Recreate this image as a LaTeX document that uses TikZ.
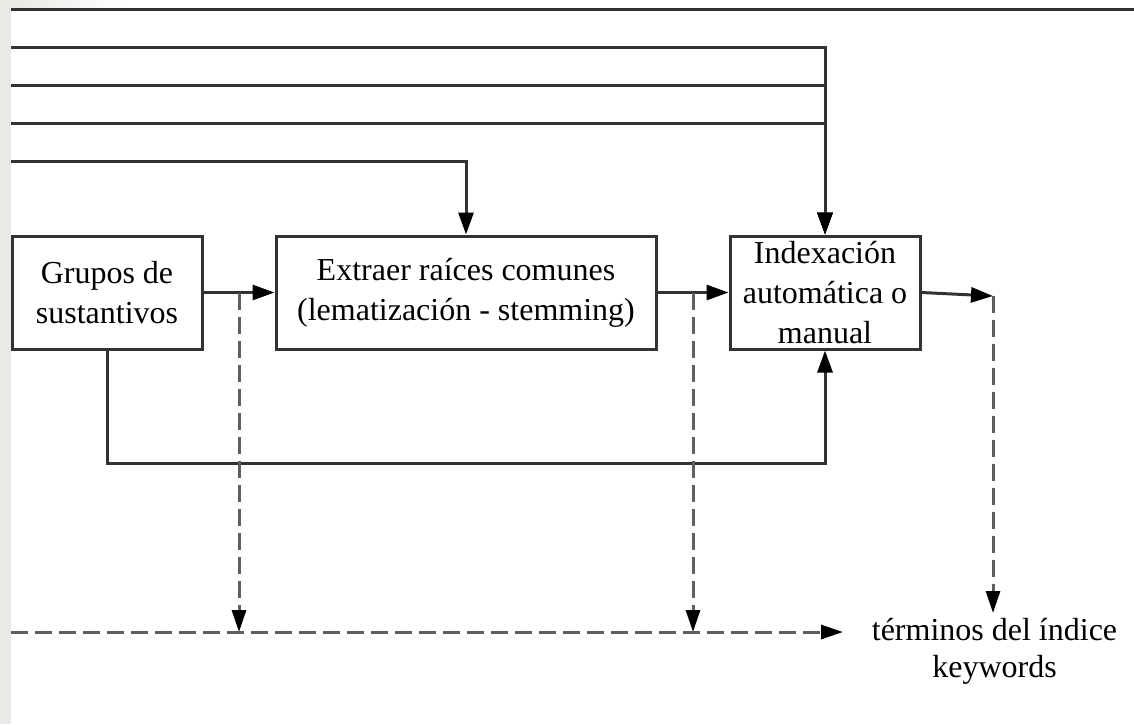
\documentclass[tikz,border=0pt]{standalone}
\usepackage{fontspec}
\setmainfont{Liberation Serif}
\usepackage{tikz}
\usetikzlibrary{arrows.meta,calc}
\usepackage{xcolor}
\definecolor{stripgray}{RGB}{234,233,229}
\definecolor{linegray}{RGB}{50,50,50}
\definecolor{dashgray}{RGB}{95,95,95}

\begin{document}
\begin{tikzpicture}[x=0.5pt, y=-0.5pt,
    box/.style={draw=linegray, line width=1.5pt, fill=white, align=center,
        minimum height=56.5pt, inner sep=0pt},
    flow/.style={draw=linegray, line width=1.5pt,
        -{Triangle[length=11pt,width=7.5pt,color=black]}},
    aux/.style={draw=dashgray, line width=1.5pt, dash pattern=on 8.5pt off 3.5pt,
        -{Triangle[length=11pt,width=7pt,color=black]}},
    font=\fontsize{16}{20}\selectfont
]

\useasboundingbox (0,0) rectangle (1134,724);

% frame
\fill[stripgray] (0,0) rectangle (11,724);
\shade[left color=stripgray, right color=white] (11,0) rectangle (130,8);
\draw[line width=1.5pt, linegray] (11,9) -- (1134,9);

% Boxes
\node[box, minimum width=95pt] (grupos) at (107,292.5) {Grupos de\\sustantivos};
\node[box, minimum width=190pt] (raices) at (466,292.5) {Extraer raíces comunes\\(lematización - stemming)};
\node[box, minimum width=95pt] (indexa) at (825,292.5) {Indexación\\automática o\\manual};
\node[align=center, inner sep=2.5pt, anchor=north, font=\fontsize{16}{18.5}\selectfont]
    (terminos) at (994.5,613) {términos del índice\\keywords};

% inputs from the left
\coordinate (inA) at (11,47);
\coordinate (inB) at (11,85);
\coordinate (inC) at (11,123);
\coordinate (inD) at (11,161);
\draw[flow] (inA) -| (indexa.north);
\draw[flow] (inB) -| (indexa.north);
\draw[flow] (inC) -| (indexa.north);
\draw[flow] (inD) -| (raices.north);

% main chain
\draw[flow] (grupos.east) -- (raices.west);
\draw[flow] (raices.east) -- (indexa.west);
\coordinate (salida) at (993,296);
\draw[flow] (indexa.east) -- (salida);
\draw[flow] (grupos.south) -- ++(0,113) -| (indexa.south);

% dashed paths
\coordinate (tapA) at ($(grupos.east)!0.5!(raices.west)$);
\coordinate (tapB) at ($(raices.east)!0.5!(indexa.west)$);
\coordinate (baseL) at (11,632);
\coordinate (baseR) at (843,632);
\draw[aux] (baseL) -- (baseR);
\draw[aux] (tapA) -- (tapA |- baseL);
\draw[aux] (tapB) -- (tapB |- baseL);
\draw[aux] (salida) -- (salida |- terminos.north);

\end{tikzpicture}
\end{document}
